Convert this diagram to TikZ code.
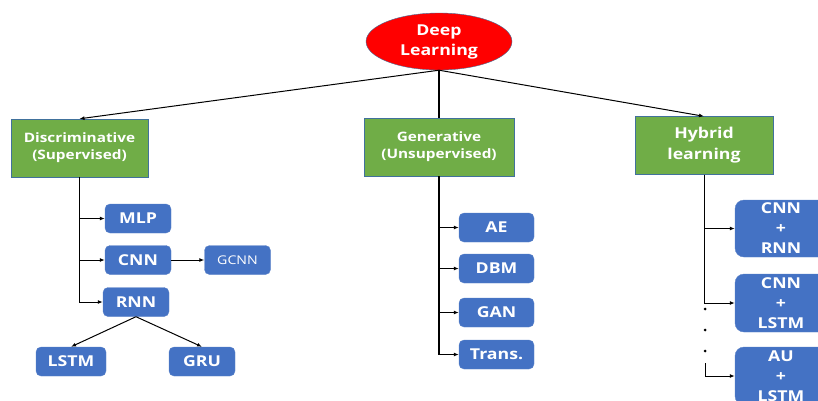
\documentclass[tikz,border=0pt]{standalone}
\usepackage{fontspec}
\setmainfont{Open Sans}[FakeStretch = 1.18]
\usetikzlibrary{shapes.geometric, arrows.meta}
\definecolor{rootRed}{HTML}{FF0000}
\definecolor{groupGreen}{HTML}{70AD47}
\definecolor{modelBlue}{HTML}{4472C4}
\definecolor{edgeBlue}{HTML}{41719C}
\definecolor{lightEdge}{HTML}{5B82C8}
\tikzstyle{rootStyle}=[shape = ellipse, fill = rootRed, draw = edgeBlue, text = white, font = \bfseries\fontsize{15}{20}\selectfont, align = center, minimum width = 146pt, minimum height = 57pt, inner sep = 0pt]
\tikzstyle{groupBox}=[shape = rectangle, fill = groupGreen, draw = edgeBlue, text = white, font = \bfseries\fontsize{13}{17}\selectfont, align = center, minimum height = 58pt, inner sep = 2pt]
\tikzstyle{modelBox}=[shape = rectangle, rounded corners = 5pt, fill = modelBlue, draw = lightEdge, text = white, font = \bfseries\fontsize{15}{20}\selectfont, align = center, minimum width = 66pt, minimum height = 29pt, inner sep = 1pt]

\begin{document}
\begin{tikzpicture}[x = 1pt, y = -1pt]
\tikzstyle{link}=[draw, line width = 1pt, -{Latex[length = 5pt, width = 4pt]}]
\tikzstyle{trunk}=[draw, line width = 1.6pt]
\tikzstyle{dotStyle}=[shape = circle, fill, inner sep = 0pt, minimum size = 3pt]
\useasboundingbox (0,0) rectangle (818,400);
\clip (0,0) rectangle (818,400);
% Root and groups
\node[rootStyle] (deep) at (439, 41.5) {Deep\\Learning};
\node[groupBox, minimum width = 137pt] (disc) at (79.5, 148) {Discriminative\\(Supervised)};
\node[groupBox, minimum width = 150pt] (gen) at (439, 147) {Generative\\(Unsupervised)};
\node[groupBox, minimum width = 138pt, font = \bfseries\fontsize{15}{21}\selectfont] (hyb) at (704, 145.5) {Hybrid\\learning};
% Start left
\node[modelBox] (mlp) at (138, 218.5) {MLP};
\node[modelBox] (cnn) at (138, 260) {CNN};
\node[modelBox, font = \fontsize{12}{14}\selectfont] (gcnn) at (237.5, 260) {GCNN};
\node[modelBox] (rnn) at (136, 302) {RNN};
\node[modelBox, minimum width = 70pt] (lstm) at (71, 361.5) {LSTM};
\node[modelBox] (gru) at (202, 361.5) {GRU};
% Start middle
\node[modelBox, minimum width = 75pt] (ae) at (496.5, 227.5) {AE};
\node[modelBox, minimum width = 75pt] (dbm) at (496.5, 268.5) {DBM};
\node[modelBox, minimum width = 75pt] (gan) at (496.5, 312.5) {GAN};
\node[modelBox, minimum width = 75pt] (trans) at (496.5, 354.5) {Trans.};
% Start right
\node[modelBox, minimum width = 92pt, minimum height = 57pt, rounded corners = 9pt] (cnnrnn) at (781, 228.5) {CNN\\+\\RNN};
\node[modelBox, minimum width = 92pt, minimum height = 58pt, rounded corners = 9pt] (cnnlstm) at (781, 303) {CNN\\+\\LSTM};
\node[modelBox, minimum width = 92pt, minimum height = 58pt, rounded corners = 9pt] (aulstm) at (781, 376) {AU\\+\\LSTM};
\node[dotStyle] (dotA) at (705, 309) {};
\node[dotStyle] (dotB) at (705, 330) {};
\node[dotStyle] (dotC) at (705, 351) {};
\coordinate (gap) at (705, 363);
% Edges
\path[link] (deep.south) -- (disc.north);
\path[link] (deep.south) -- (hyb.north);
\path[trunk] (deep.south) -- (gen.north);
\path[link] (disc.south) |- (mlp.west);
\path[link] (disc.south) |- (cnn.west);
\path[link] (disc.south) |- (rnn.west);
\path[link] (cnn.east) -- (gcnn.west);
\path[link] (rnn.south) -- (lstm.north);
\path[link] (rnn.south) -- (gru.north);
\path[link, line width = 1.4pt] (gen.south) |- (ae.west);
\path[link, line width = 1.4pt] (gen.south) |- (dbm.west);
\path[link, line width = 1.4pt] (gen.south) |- (gan.west);
\path[link, line width = 1.4pt] (gen.south) |- (trans.west);
\path[link] (hyb.south) |- (cnnrnn.west);
\path[link] (hyb.south) |- (cnnlstm.west);
\path[link] (gap) |- (aulstm.west);
\end{tikzpicture}
\end{document}
